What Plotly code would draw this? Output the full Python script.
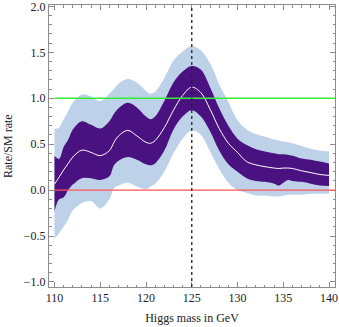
import plotly.graph_objects as go

# Higgs mass grid (GeV) and signal strength
mass = [110, 110.5, 111, 111.5, 112, 113, 114, 115, 116, 116.5, 117, 118, 119, 120,
        120.5, 121, 122, 123, 124, 125, 126, 127, 128, 129, 130, 131, 132, 133, 134,
        134.5, 135, 135.5, 136, 137, 138, 139, 140]

rate_best = [0.065, 0.14, 0.22, 0.29, 0.36, 0.435, 0.41, 0.375, 0.43, 0.52, 0.59, 0.65,
             0.59, 0.52, 0.51, 0.54, 0.68, 0.87, 1.03, 1.12, 1.06, 0.88, 0.67, 0.51,
             0.41, 0.31, 0.275, 0.255, 0.24, 0.235, 0.24, 0.24, 0.235, 0.21, 0.19, 0.17, 0.16]

sigma1_hi = [0.37, 0.34, 0.47, 0.55, 0.66, 0.75, 0.71, 0.67, 0.75, 0.83, 0.89, 0.95,
             0.90, 0.80, 0.77, 0.80, 0.97, 1.17, 1.29, 1.35, 1.31, 1.12, 0.89, 0.70,
             0.56, 0.49, 0.445, 0.42, 0.40, 0.39, 0.39, 0.385, 0.375, 0.345, 0.33, 0.31, 0.29]

sigma1_lo = [-0.23, -0.10, -0.08, 0.0, 0.06, 0.13, 0.13, 0.11, 0.15, 0.27, 0.32, 0.36,
             0.33, 0.28, 0.27, 0.29, 0.43, 0.66, 0.80, 0.87, 0.80, 0.64, 0.43, 0.28,
             0.20, 0.13, 0.10, 0.09, 0.07, 0.05, 0.08, 0.11, 0.10, 0.09, 0.07, 0.05, 0.045]

sigma2_hi = [0.67, 0.68, 0.77, 0.86, 0.95, 1.04, 1.02, 0.97, 1.05, 1.10, 1.16, 1.21,
             1.17, 1.08, 1.05, 1.07, 1.22, 1.41, 1.51, 1.57, 1.52, 1.38, 1.15, 0.96,
             0.76, 0.66, 0.61, 0.58, 0.55, 0.54, 0.53, 0.52, 0.51, 0.48, 0.45, 0.43, 0.42]

sigma2_lo = [-0.53, -0.47, -0.40, -0.32, -0.22, -0.14, -0.12, -0.20, -0.10, 0.02, 0.05,
             0.08, 0.04, 0.01, 0.04, 0.07, 0.20, 0.40, 0.56, 0.65, 0.60, 0.42, 0.23,
             0.08, 0.0, -0.03, -0.06, -0.06, -0.07, -0.07, -0.06, -0.05, -0.05, -0.05,
             -0.04, -0.04, -0.04]

sm_rate = 1.0
no_signal = 0.0
m_peak = 125

x_ticks = [110, 115, 120, 125, 130, 135, 140]
y_ticks = [-1.0, -0.5, 0.0, 0.5, 1.0, 1.5, 2.0]

FONT = "Liberation Serif"
FRAME = "#8c8c8c"
TEXT = "#222222"

fig = go.Figure()

def add_band(lo, hi, color):
    fig.add_trace(go.Scatter(x=mass, y=lo, mode="lines", line=dict(width=0, shape="spline"),
                             hoverinfo="skip", showlegend=False))
    fig.add_trace(go.Scatter(x=mass, y=hi, mode="lines", line=dict(width=0, shape="spline"),
                             fill="tonexty", fillcolor=color, hoverinfo="skip", showlegend=False))

add_band(sigma2_lo, sigma2_hi, "#bdd1e9")
add_band(sigma1_lo, sigma1_hi, "#4a1181")

fig.add_trace(go.Scatter(x=mass, y=rate_best, mode="lines",
                         line=dict(color="white", width=1, shape="spline"), showlegend=False))

# reference lines
fig.add_shape(type="line", xref="x", yref="y", x0=mass[0], x1=141, y0=sm_rate, y1=sm_rate,
              line=dict(color="#33ee33", width=1.3))
fig.add_shape(type="line", xref="x", yref="y", x0=mass[0], x1=141, y0=no_signal, y1=no_signal,
              line=dict(color="#ff5555", width=1.3))
fig.add_shape(type="line", xref="x", yref="paper", x0=m_peak, x1=m_peak, y0=0, y1=1,
              line=dict(color="#222222", width=1.3, dash="dot"))

axis_common = dict(
    showline=True, linecolor=FRAME, linewidth=1, mirror="allticks",
    ticks="inside", tickcolor=FRAME, ticklen=5, tickwidth=1,
    showgrid=False, zeroline=False, automargin=False,
    ticklabeloverflow="allow",
    tickfont=dict(family=FONT, size=12, color=TEXT),
)

fig.update_xaxes(range=[109.4, 140.65], tickvals=x_ticks,
                 minor=dict(ticks="inside", dtick=1, ticklen=2.5, tickcolor=FRAME),
                 title=dict(text="Higgs mass in GeV", font=dict(family=FONT, size=12, color=TEXT),
                            standoff=9),
                 **axis_common)
fig.update_yaxes(range=[-1.055, 2.015], tickvals=y_ticks,
                 ticktext=[f"{v:.1f}".replace("-", "\u2212") for v in y_ticks],
                 minor=dict(ticks="inside", dtick=0.1, tick0=0, ticklen=2.5, tickcolor=FRAME),
                 **axis_common)

# y title as a rotated annotation so it can sit close to the left edge
fig.add_annotation(text="Rate/SM rate", textangle=-90, showarrow=False,
                   xref="paper", yref="paper", x=0, y=0.5, xanchor="center", yanchor="middle",
                   xshift=-41, font=dict(family=FONT, size=12, color=TEXT))

fig.update_layout(
    width=339, height=327,
    margin=dict(l=49, r=4, t=5, b=40),
    plot_bgcolor="white", paper_bgcolor="white",
)

# page body has an 8px default margin; drop it so the figure sits at the window corner
fig.write_html("out.html", config={"displayModeBar": False},
               post_script="document.body.style.margin='0';")
